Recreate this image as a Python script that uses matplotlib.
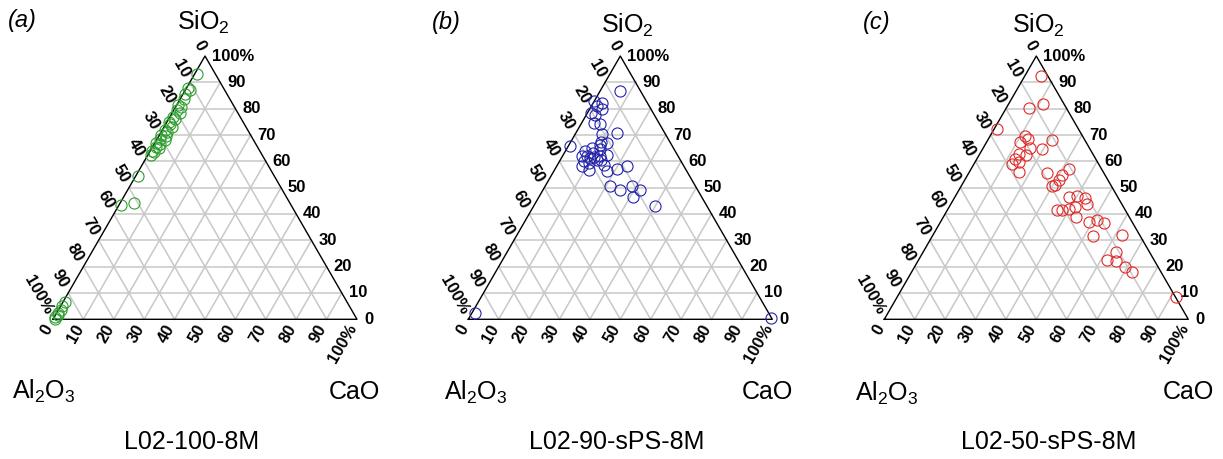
import numpy as np
import matplotlib
matplotlib.use("Agg")
import matplotlib.pyplot as plt

plt.rcParams['font.family'] = ['Liberation Sans', 'DejaVu Sans']
plt.rcParams['mathtext.fontset'] = 'custom'
plt.rcParams['mathtext.rm'] = 'Liberation Sans'
plt.rcParams['mathtext.it'] = 'Liberation Sans:italic'

# compositions in %, Al2O3 is the rest
a_sio2 = [93, 88, 87, 85.5, 83.5, 81.5, 80.5, 79.5, 78.5, 77, 76, 75, 74, 73, 72, 71, 70, 69.5, 68.5,
          68, 67, 66.5, 65.5, 65, 64, 63.5, 62.5, 54.5, 43.5, 44, 6.5, 5, 3.5, 2.5, 1.5, 0.8, 0.3]
a_cao = [0.8, 0.5, 1.5, 0.8, 1.5, 0.5, 2, 1, 2.5, 1, 2, 0.5, 1.5, 2.5, 1, 2, 0.5, 2.5, 1,
         3, 0.5, 2, 1, 2.5, 0.5, 1.5, 1, 0.8, 0.5, 4.5, 0.8, 0.5, 1, 0.3, 0.8, 0.3, 0.5]

b_sio2 = [86.7, 82.8, 82.2, 79.7, 78.4, 81, 77.5, 74.6, 74, 70.8, 70.2, 67, 66.3, 66, 65.1, 63.8, 61.9,
          61.9, 61.3, 61.9, 61.5, 60, 59.4, 60.6, 58.7, 58.1, 56.8, 56.2, 57.1, 58.1, 50.5, 49.2, 50.5,
          49.2, 46.3, 42.9, 63, 62.5, 64.5, 67.5, 60.5, 2.3, 0.4]
b_cao = [6.7, 0, 2.9, 4.2, 1.3, 1.8, 3, 3.9, 6.4, 13.5, 8.9, 12.1, 10.3, 0.3, 8.1, 6.6, 6.4,
         8.1, 9.5, 12.5, 10.5, 7.9, 9.9, 12, 15.2, 8.3, 11.2, 17.5, 20.4, 23.2, 21.5, 25.4, 28.7,
         32, 31.1, 39.9, 9.5, 14.5, 11, 10, 13.5, 1, 99.5]

c_sio2 = [92.4, 80.1, 81.6, 72.3, 69.8, 68.3, 67.2, 68, 65.1, 64.7, 62.9, 62.5, 60.9, 59.1, 59.8,
          56, 55.6, 57.2, 54.9, 52.8, 50.5, 51.2, 46.4, 46.7, 46.1, 43.8, 41.6, 41.6, 41.9, 42.5,
          38.8, 36.8, 37.8, 36.5, 31.5, 32.1, 25.5, 22.6, 22.3, 19.8, 18.1, 8.6]
c_cao = [5.4, 7.7, 11.3, 0.9, 11.5, 13.1, 11.1, 21.2, 15.5, 19.6, 12.8, 15.2, 12.7, 12.5, 14.5,
         16.2, 25.7, 32.1, 31.1, 31, 30, 30.5, 37.5, 39.9, 43.1, 44.8, 36, 37.7, 39.7, 41.5,
         43.5, 48.9, 51.1, 54, 52.8, 62, 63.6, 62, 65.2, 69.2, 72.3, 91.8]

panels = [
    {'sio2': a_sio2, 'cao': a_cao, 'color': '#2e9e2e', 'letter': '(a)', 'title': 'L02-100-8M',
     'bl': (53, 319.3), 'letter_xy': (22, 20), 'top_xy': (203, 22), 'al_xy': (44, 391),
     'ca_xy': (354, 392), 'title_xy': (192, 442)},
    {'sio2': b_sio2, 'cao': b_cao, 'color': '#2222aa', 'letter': '(b)', 'title': 'L02-90-sPS-8M',
     'bl': (468.3, 319.3), 'letter_xy': (446, 23), 'top_xy': (627, 25), 'al_xy': (476, 392),
     'ca_xy': (767, 392), 'title_xy': (617, 442)},
    {'sio2': c_sio2, 'cao': c_cao, 'color': '#e02a2a', 'letter': '(c)', 'title': 'L02-50-sPS-8M',
     'bl': (884.3, 319.3), 'letter_xy': (877, 23), 'top_xy': (1038, 25), 'al_xy': (887, 393),
     'ca_xy': (1188, 392), 'title_xy': (1049, 442)},
]

W, H = 1223, 459
side = 304.0
h3 = np.sqrt(3) / 2


def tern(s, c):
    s = np.asarray(s, float) / 100
    c = np.asarray(c, float) / 100
    return c + s / 2, s * h3


fig = plt.figure(figsize=(W / 100, H / 100), dpi=100)

for p in panels:
    bx, by = p['bl']
    ax = fig.add_axes([(bx - 50) / W, 0, 410 / W, 1])
    ax.set_xlim(-50 / side, 360 / side)
    ax.set_ylim(-(H - by) / side, by / side)
    ax.axis('off')

    # grid
    for v in range(10, 100, 10):
        for (s0, c0), (s1, c1) in [((v, 0), (v, 100 - v)),
                                   ((0, v), (100 - v, v)),
                                   ((100 - v, 0), (0, 100 - v))]:
            x0, y0 = tern(s0, c0)
            x1, y1 = tern(s1, c1)
            ax.plot([x0, x1], [y0, y1], color='#c8c8c8', lw=1.1, zorder=1)
    ax.plot([0, 1, 0.5, 0], [0, 0, h3, 0], color='black', lw=1.0, zorder=2)

    # tick labels
    off = 7 / side
    for v in range(0, 101, 10):
        lab = '100%' if v == 100 else str(v)
        x, y = tern(v, 100 - v)
        ax.text(x + off, y, lab, ha='left', va='center', fontsize=12, fontweight='bold')
        x, y = tern(0, v)
        ax.text(x - 0.5 * off, y - h3 * off, lab, ha='right', va='center', rotation=60,
                rotation_mode='anchor', fontsize=12, fontweight='bold')
        x, y = tern(100 - v, 0)
        ax.text(x - 0.5 * off, y + h3 * off, lab, ha='right', va='center', rotation=-60,
                rotation_mode='anchor', fontsize=12, fontweight='bold')

    xs, ys = tern(p['sio2'], p['cao'])
    ax.plot(xs, ys, 'o', mfc='none', mec=p['color'], mew=0.8, ms=8, zorder=3, clip_on=False)

    def ftext(xy, s, **kw):
        fig.text(xy[0] / W, 1 - xy[1] / H, s, ha='center', va='center', **kw)

    ftext(p['letter_xy'], p['letter'], fontsize=17, style='italic')
    ftext(p['top_xy'], 'SiO$_2$', fontsize=18)
    ftext(p['al_xy'], 'Al$_2$O$_3$', fontsize=18)
    ftext(p['ca_xy'], 'CaO', fontsize=18)
    ftext(p['title_xy'], p['title'], fontsize=18)

fig.savefig('out.png', dpi=100)
